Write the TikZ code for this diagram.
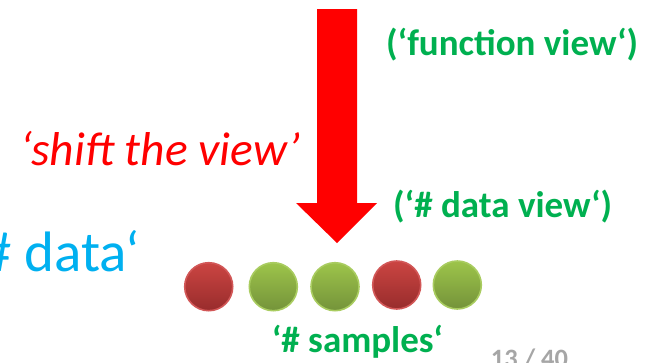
\documentclass[tikz,border=0pt]{standalone}
\usepackage{fontspec}
\setmainfont{Carlito}
\definecolor{arrred}{HTML}{FF0000}
\definecolor{skyblue}{HTML}{00B0F0}
\definecolor{lblgreen}{HTML}{00B050}
\definecolor{pagegray}{HTML}{A6A6A6}
\definecolor{redtop}{HTML}{CB4542}
\definecolor{redbot}{HTML}{982C2C}
\definecolor{redrim}{HTML}{D25757}
\definecolor{grntop}{HTML}{9DC44A}
\definecolor{grnbot}{HTML}{74933A}
\definecolor{grnrim}{HTML}{A9CC60}
\tikzset{
  ball/.style={circle, minimum size=48pt, inner sep=0pt, line width=1.6pt, shading=axis, shading angle=0},
  redball/.style={ball, draw=redrim, top color=redtop, bottom color=redbot},
  greenball/.style={ball, draw=grnrim, top color=grntop, bottom color=grnbot},
  lbl/.style={inner sep=0pt, anchor=base west},
  greenlbl/.style={lbl, text=lblgreen, font=\fontsize{37}{42}\selectfont\bfseries},
}
\begin{document}
\begin{tikzpicture}[x=1pt,y=-1pt]
\useasboundingbox (0,0) rectangle (653,362);
% big arrow
\fill[arrred] (317,9) -- (357,9) -- (357,203) -- (377,203) -- (337,243) -- (296,203) -- (317,203) -- cycle;
% balls
\node[redball]   (b1) at (208.7,286.7) {};
\node[greenball] (b2) at (273.3,286.7) {};
\node[greenball] (b3) at (335,286.7) {};
\node[redball]   (b4) at (396.7,285) {};
\node[greenball] (b5) at (457.3,285) {};
% labels
\node[lbl, text=arrred, font=\fontsize{47.5}{54}\selectfont\itshape] (shift) at (20,165) {‘shift the view’};
\node[lbl, text=skyblue, font=\fontsize{57}{64}\selectfont] (data) at (-17,271.7) {\# data‘};
\node[greenlbl] (fview) at (386,55.5) {(‘function view‘)};
\node[greenlbl] (dview) at (393,217) {(‘\# data view‘)};
\node[greenlbl] (samples) at (271.7,352) {‘\# samples‘};
\node[lbl, text=pagegray, font=\fontsize{26.5}{30}\selectfont\bfseries] (page) at (490.7,367) {13 / 40};
\end{tikzpicture}
\end{document}
